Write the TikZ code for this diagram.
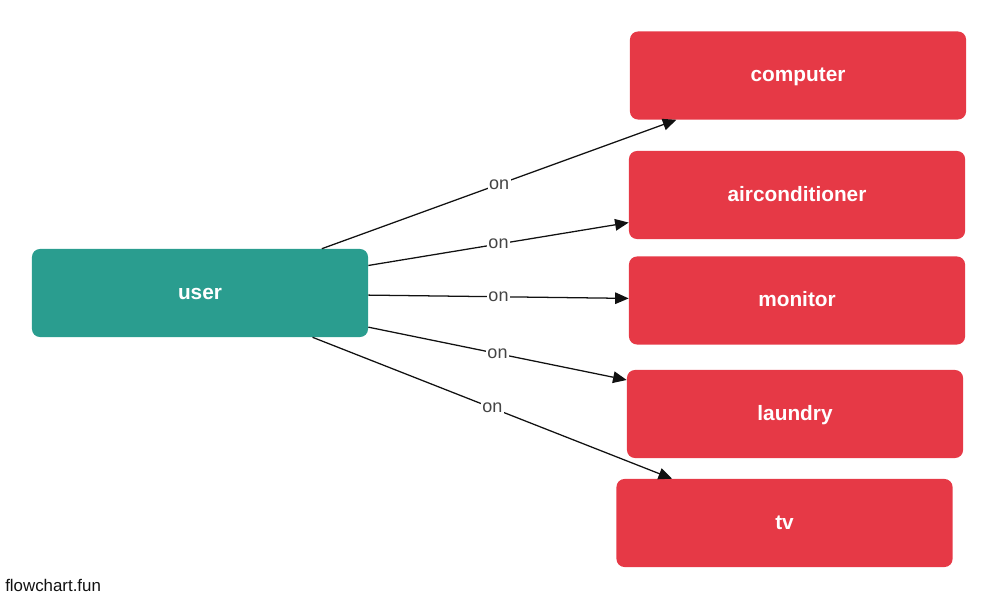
\documentclass[tikz,border=0pt]{standalone}
\usepackage{fontspec}
\setmainfont{Liberation Sans}
\usepackage{tikz}
\usetikzlibrary{arrows.meta}
\definecolor{userteal}{HTML}{2A9D8F}
\definecolor{devred}{HTML}{E63946}
\definecolor{edgeink}{HTML}{111111}
\definecolor{lblgray}{HTML}{444444}

\begin{document}
\begin{tikzpicture}[x=0.025cm, y=-0.025cm,
    box/.style={rectangle, rounded corners=0.2cm, minimum width=8.4cm, minimum height=2.2cm,
      text=white, font=\fontsize{14.8}{16}\selectfont\bfseries, inner sep=0pt,
      text height=0.95em, text depth=0.05em},
    usr/.style={box, fill=userteal},
    dev/.style={box, fill=devred},
    link/.style={-{Triangle[length=0.34cm, width=0.29cm]}, edgeink, line width=0.9pt},
    lbl/.style={fill=white, text=lblgray, font=\fontsize{12.8}{14}\selectfont, inner sep=1pt}]
  \useasboundingbox (0,0) rectangle (998,599);
  \node[usr] (user) at (200,293) {user};
  \node[dev] (computer) at (798,75.5) {computer};
  \node[dev] (aircon) at (797,195) {airconditioner};
  \node[dev] (monitor) at (797,300.5) {monitor};
  \node[dev] (laundry) at (795,414) {laundry};
  \node[dev] (tv) at (784.5,523) {tv};
  % edges from user to every device
  \foreach \dst in {computer,aircon,monitor,laundry,tv}
    \draw[link] (user) -- node[lbl] {on} (\dst);
  \node[anchor=base west, text=edgeink, font=\fontsize{12}{14}\selectfont, inner sep=0pt] (credit) at (5,591) {flowchart.fun};
\end{tikzpicture}
\end{document}
